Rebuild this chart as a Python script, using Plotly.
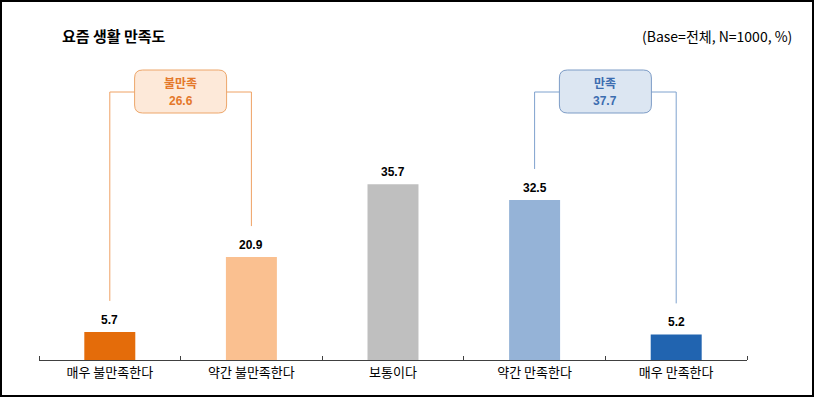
import plotly.graph_objects as go

categories = ["매우 불만족한다", "약간 불만족한다", "보통이다", "약간 만족한다", "매우 만족한다"]
values = [5.7, 20.9, 35.7, 32.5, 5.2]
bar_colors = ["#E46C0A", "#FAC090", "#BFBFBF", "#95B3D7", "#2164B0"]
title_text = "요즘 생활 만족도"
note_text = "(Base=전체, N=1000, %)"
group_labels = ["불만족", "만족"]
group_members = [[0, 1], [3, 4]]

FONT_NUM = "Liberation Sans, Arial, Noto Sans CJK KR, sans-serif"
FONT_KR = "Noto Sans CJK KR, Liberation Sans, sans-serif"

# layout geometry (pixels)
W, H = 815, 398
L, R, T, B = 39, 68, 40, 38
plot_w = W - L - R
plot_h = H - T - B
YMAX = 65.0


def px_x(px):
    return (px - L) / plot_w


def px_y(py):
    return (H - B - py) / plot_h


x_idx = list(range(len(categories)))

fig = go.Figure()
fig.add_trace(go.Bar(
    x=x_idx, y=values, width=0.36,
    marker=dict(color=bar_colors, line=dict(width=0)),
    hoverinfo="skip", showlegend=False,
))

annotations = []
for i, v in zip(x_idx, values):
    annotations.append(dict(
        x=i, y=v, xref="x", yref="y", text=f"<b>{v}</b>", showarrow=False,
        yanchor="middle", yshift=12,
        font=dict(family=FONT_NUM, size=12, color="#000000"),
    ))

shapes = []

# outer frame
shapes.append(dict(
    type="rect", xref="paper", yref="paper",
    x0=px_x(1), x1=px_x(813), y0=px_y(396), y1=px_y(1),
    line=dict(color="#000000", width=2), fillcolor="rgba(0,0,0,0)",
))


def rounded_rect(x0, x1, y0, y1, rx, ry):
    return (f"M {x0+rx},{y1} L {x1-rx},{y1} Q {x1},{y1} {x1},{y1-ry} "
            f"L {x1},{y0+ry} Q {x1},{y0} {x1-rx},{y0} L {x0+rx},{y0} "
            f"Q {x0},{y0} {x0},{y0+ry} L {x0},{y1-ry} Q {x0},{y1} {x0+rx},{y1} Z")


styles = [
    dict(line="#EFA264", fill="#FDE9D9", border="#EDA66A", text="#E4782A"),
    dict(line="#7FA2CE", fill="#DCE6F2", border="#7D9CC6", text="#3C6DB0"),
]

px_per_unit = plot_h / YMAX
px_per_cat = plot_w / len(categories)
bracket_y = (H - B - 92) / px_per_unit
box_y0 = (H - B - 113) / px_per_unit
box_y1 = (H - B - 70) / px_per_unit
box_half = 46 / px_per_cat
rx = 8 / px_per_cat
ry = 8 / px_per_unit
gap = 6.3

for label, members, st in zip(group_labels, group_members, styles):
    a, b = members
    total = round(sum(values[m] for m in members), 1)
    cx = (a + b) / 2
    path = (f"M {a},{values[a] + gap} L {a},{bracket_y} L {b},{bracket_y} "
            f"L {b},{values[b] + gap}")
    shapes.append(dict(type="path", xref="x", yref="y", path=path,
                       line=dict(color=st["line"], width=1)))
    shapes.append(dict(type="path", xref="x", yref="y",
                       path=rounded_rect(cx - box_half, cx + box_half, box_y0, box_y1, rx, ry),
                       line=dict(color=st["border"], width=1), fillcolor=st["fill"]))
    annotations.append(dict(
        x=cx, y=(H - B - 82) / px_per_unit, xref="x", yref="y",
        text=f"<b>{label}</b>", showarrow=False, yanchor="middle",
        font=dict(family=FONT_KR, size=12, color=st["text"]),
    ))
    annotations.append(dict(
        x=cx, y=(H - B - 101) / px_per_unit, xref="x", yref="y",
        text=f"<b>{total}</b>", showarrow=False, yanchor="middle",
        font=dict(family=FONT_NUM, size=12, color=st["text"]),
    ))

annotations.append(dict(
    x=px_x(60), y=px_y(35), xref="paper", yref="paper", text=f"<b>{title_text}</b>",
    showarrow=False, xanchor="left", yanchor="middle",
    font=dict(family=FONT_KR, size=15, color="#000000"),
))
annotations.append(dict(
    x=px_x(794), y=px_y(36), xref="paper", yref="paper", text=note_text,
    showarrow=False, xanchor="right", yanchor="middle",
    font=dict(family=FONT_KR, size=14, color="#000000"),
))

fig.update_layout(
    width=W, height=H,
    margin=dict(l=L, r=R, t=T, b=B, pad=0),
    paper_bgcolor="#FFFFFF", plot_bgcolor="#FFFFFF",
    bargap=0.64,
    shapes=shapes, annotations=annotations,
    xaxis=dict(
        range=[-0.5, len(categories) - 0.5], tickmode="array",
        tickvals=x_idx, ticktext=categories, ticks="",
        showline=True, linecolor="#404040", linewidth=1,
        showgrid=False, zeroline=False, fixedrange=True,
        tickfont=dict(family=FONT_KR, size=13, color="#000000"),
        minor=dict(tickmode="array",
                   tickvals=[i - 0.5 for i in range(len(categories) + 1)],
                   ticks="inside", ticklen=4, tickcolor="#404040", showgrid=False),
    ),
    yaxis=dict(range=[0, YMAX], visible=False, showgrid=False, zeroline=False,
               fixedrange=True),
)

fig.write_html(
    "out.html",
    config={"displayModeBar": False},
    post_script="document.body.style.margin='0px';document.body.style.overflow='hidden';",
)
